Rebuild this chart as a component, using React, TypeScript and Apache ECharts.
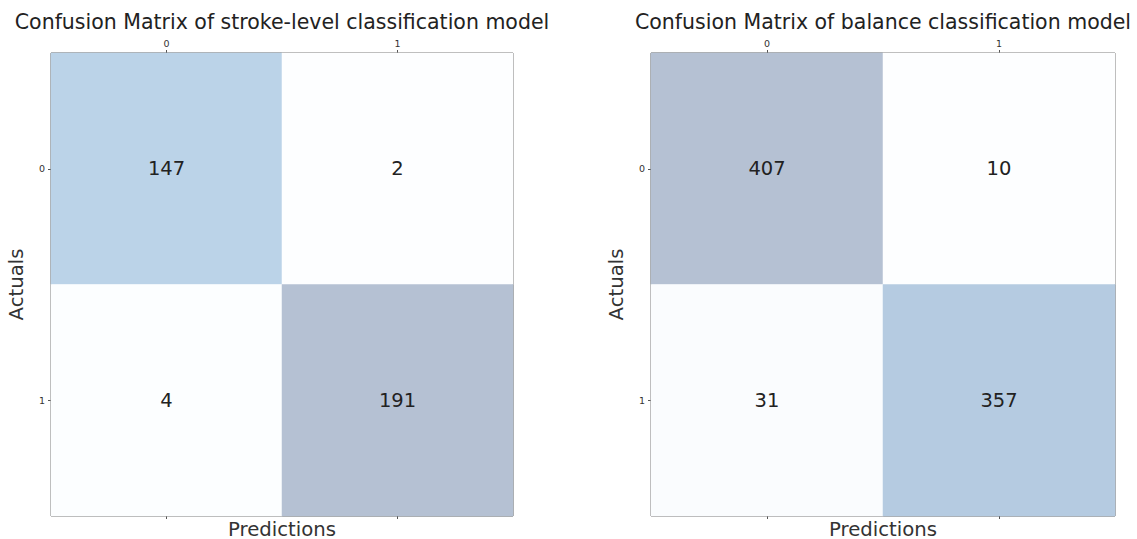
import React, { useEffect, useRef } from "react";
import * as echarts from "echarts";

const classLabels = ["0", "1"];
const strokeTitle = "Confusion Matrix of stroke-level classification model";
const balanceTitle = "Confusion Matrix of balance classification model";
// rows = actual, columns = predicted
const strokeMatrix = [
  [147, 2],
  [4, 191],
];
const balanceMatrix = [
  [407, 10],
  [31, 357],
];
// matplotlib "Blues" stops blended at alpha 0.3 over white
const bluesAlpha = [
  "#fdfeff", "#f5f9fd", "#eef4fa", "#e2eff6", "#d3e7f3",
  "#c6deee", "#bcd4e9", "#b5cbe1", "#b5c1d3",
];

function toCells(m: number[][]) {
  const out: number[][] = [];
  m.forEach((row, r) => row.forEach((v, c) => out.push([c, r, v])));
  return out;
}
function flat(m: number[][]) {
  return m.reduce((a, r) => a.concat(r), [] as number[]);
}

export default function App() {
  const ref = useRef<HTMLDivElement>(null);
  useEffect(() => {
    if (!ref.current) return;
    const chart = echarts.init(ref.current, null, { renderer: "svg" });
    const font = "DejaVu Sans";
    const grids = [
      { left: 51, top: 53, width: 462, height: 463 },
      { left: 651, top: 53, width: 464, height: 463 },
    ];
    const mats = [strokeMatrix, balanceMatrix];
    const titles = [strokeTitle, balanceTitle];
    const xAxes: any[] = [];
    const yAxes: any[] = [];
    const series: any[] = [];
    const visualMaps: any[] = [];
    const tick = { show: true, alignWithLabel: true, length: 3, lineStyle: { color: "#555" } };
    grids.forEach((g, i) => {
      xAxes.push({
        type: "category",
        data: classLabels,
        gridIndex: i,
        position: "top",
        axisLine: { show: false },
        axisTick: tick,
        axisLabel: { fontSize: 9.5, color: "#333", fontFamily: font, margin: 5 },
        splitLine: { show: false },
      });
      xAxes.push({
        type: "category",
        data: classLabels,
        gridIndex: i,
        position: "bottom",
        axisLine: { show: false },
        axisTick: tick,
        axisLabel: { show: false },
        name: "Predictions",
        nameLocation: "middle",
        nameGap: 3,
        nameTextStyle: { fontSize: 19.7, color: "#333", fontFamily: font },
      });
      yAxes.push({
        type: "category",
        data: classLabels,
        gridIndex: i,
        inverse: true,
        axisLine: { show: false },
        axisTick: tick,
        axisLabel: { fontSize: 9.5, color: "#333", fontFamily: font, margin: 6 },
        name: "Actuals",
        nameLocation: "middle",
        nameRotate: 90,
        nameGap: 25,
        nameTextStyle: { fontSize: 19.7, color: "#333", fontFamily: font },
      });
      const vals = flat(mats[i]);
      visualMaps.push({
        show: false,
        seriesIndex: i,
        min: Math.min(...vals),
        max: Math.max(...vals),
        dimension: 2,
        inRange: { color: bluesAlpha },
      });
      series.push({
        type: "heatmap",
        xAxisIndex: i * 2,
        yAxisIndex: i,
        data: toCells(mats[i]),
        label: { show: true, fontSize: 19.5, color: "#222", fontFamily: font },
        itemStyle: { borderWidth: 0 },
        emphasis: { disabled: true },
      });
    });
    chart.setOption({
      animation: false,
      backgroundColor: "#fff",
      title: titles.map((t, i) => ({
        text: t,
        left: grids[i].left + grids[i].width / 2 - 5,
        top: 6,
        textAlign: "center",
        textStyle: { fontSize: 20.5, fontWeight: "normal", color: "#222", fontFamily: font },
      })),
      grid: grids.map((g) => ({
        ...g,
        show: true,
        borderColor: "#555",
        borderWidth: 1,
        backgroundColor: "transparent",
        containLabel: false,
        outerBoundsMode: "none",
      })),
      xAxis: xAxes,
      yAxis: yAxes,
      visualMap: visualMaps,
      series,
    });
    return () => chart.dispose();
  }, []);
  return (
    <div
      ref={ref}
      style={{ position: "fixed", left: 0, top: 0, width: 1137, height: 539, background: "#fff" }}
    />
  );
}
